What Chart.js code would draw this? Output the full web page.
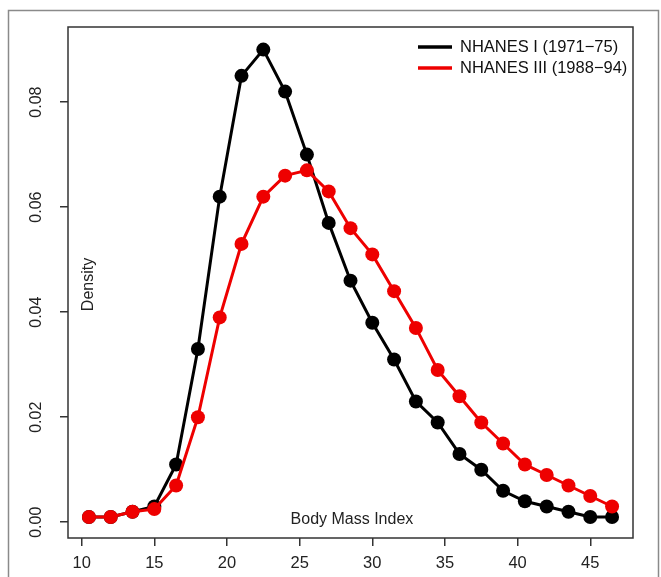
<!DOCTYPE html>
<html>
<head>
<meta charset="utf-8">
<script src="https://cdn.jsdelivr.net/npm/chart.js@4.4.0/dist/chart.umd.min.js"></script>
<style>
  html, body { margin: 0; background: #fff; }
  #wrap { width: 661px; height: 577px; }
</style>
</head>
<body>
<div id="wrap"><canvas id="c" width="661" height="577"></canvas></div>
<script>
// BMI bin midpoints
const bmi = [10.5, 12, 13.5, 15, 16.5, 18, 19.5, 21, 22.5, 24, 25.5, 27, 28.5,
  30, 31.5, 33, 34.5, 36, 37.5, 39, 40.5, 42, 43.5, 45, 46.5]

const nhanes1 = [0.001, 0.001, 0.002, 0.003, 0.011, 0.033, 0.062, 0.085, 0.090,
  0.082, 0.070, 0.057, 0.046, 0.038, 0.031, 0.023, 0.019, 0.013, 0.010, 0.006,
  0.004, 0.003, 0.002, 0.001, 0.001]

const nhanes3 = [0.001, 0.001, 0.002, 0.0025, 0.007, 0.020, 0.039, 0.053, 0.062,
  0.066, 0.067, 0.063, 0.056, 0.051, 0.044, 0.037, 0.029, 0.024, 0.019, 0.015,
  0.011, 0.009, 0.007, 0.005, 0.003]

const seriesNames = ['NHANES I (1971\u221275)', 'NHANES III (1988\u221294)']
const seriesColors = ['#000000', '#ee0000']

const xTicks = [10, 15, 20, 25, 30, 35, 40, 45]
const yTicks = [0, 0.02, 0.04, 0.06, 0.08]
const yTickLabels = ['0.00', '0.02', '0.04', '0.06', '0.08']

const xTitle = 'Body Mass Index'
const yTitle = 'Density'

const FONT = '"Liberation Sans", Arial, sans-serif'


const toPoints = ys => bmi.map((x, i) => ({x: x, y: ys[i]}))

// R style decorations: box, outer frame, y labels, titles inside, legend
const decor = {
  id: 'decor',
  afterDraw(chart) {
    const ctx = chart.ctx
    const a = chart.chartArea
    const y = chart.scales.y
    ctx.save()

    // outer figure frame
    ctx.strokeStyle = '#8a8a8a'
    ctx.lineWidth = 1.5
    ctx.strokeRect(8.5, 10.5, 650, 575)

    // plot box
    ctx.strokeStyle = '#333'
    ctx.lineWidth = 1.5
    ctx.strokeRect(a.left, a.top, a.right - a.left, a.bottom - a.top)

    // rotated y tick labels
    ctx.fillStyle = '#222'
    ctx.font = '16px ' + FONT
    ctx.textAlign = 'center'
    ctx.textBaseline = 'middle'
    yTicks.forEach((v, i) => {
      ctx.save()
      ctx.translate(a.left - 31, y.getPixelForValue(v))
      ctx.rotate(-Math.PI / 2)
      ctx.fillText(yTickLabels[i], 0, 0)
      ctx.restore()
    })

    // axis titles drawn inside the plot
    ctx.font = '16px ' + FONT
    ctx.save()
    ctx.translate(a.left + 21, (a.top + a.bottom) / 2 + 2)
    ctx.rotate(-Math.PI / 2)
    ctx.fillText(yTitle, 0, 0)
    ctx.restore()
    ctx.fillText(xTitle, chart.scales.x.getPixelForValue(28.6), a.bottom - 18)

    // legend
    ctx.textAlign = 'left'
    ctx.font = '16.5px ' + FONT
    seriesNames.forEach((name, i) => {
      const ly = a.top + 20 + i * 21
      ctx.strokeStyle = seriesColors[i]
      ctx.lineWidth = 3.5
      ctx.beginPath()
      ctx.moveTo(a.right - 215, ly)
      ctx.lineTo(a.right - 181, ly)
      ctx.stroke()
      ctx.fillStyle = '#111'
      ctx.fillText(name, a.right - 173, ly)
    })
    ctx.restore()
  }
}


const series = [nhanes1, nhanes3].map((ys, i) => ({
  label: seriesNames[i],
  data: toPoints(ys),
  borderColor: seriesColors[i],
  backgroundColor: seriesColors[i],
  borderWidth: 3,
  pointRadius: 7,
  pointBorderWidth: 0,
  tension: 0,
  order: 1 - i,
}))

new Chart(document.getElementById('c'), {
  type: 'line',
  data: {datasets: series},
  plugins: [decor],
  options: {
    responsive: false,
    animation: false,
    layout: {padding: {top: 27, right: 28, left: 0, bottom: 0}},
    plugins: {
      legend: {display: false},
      tooltip: {enabled: false},
    },
    scales: {
      x: {
        type: 'linear',
        min: 9.06,
        max: 47.94,
        afterBuildTicks: s => { s.ticks = xTicks.map(v => ({value: v})) },
        afterFit: s => { s.height = 39 },
        grid: {drawOnChartArea: false, drawTicks: true, tickLength: 8, color: '#333', lineWidth: 1.5},
        border: {display: false},
        ticks: {
          color: '#222',
          font: {family: FONT, size: 16.5},
          padding: 8,
          maxRotation: 0,
          callback: v => String(v),
        },
      },
      y: {
        type: 'linear',
        min: -0.003,
        max: 0.0943,
        afterBuildTicks: s => { s.ticks = yTicks.map(v => ({value: v})) },
        afterFit: s => { s.width = 68 },
        grid: {drawOnChartArea: false, drawTicks: true, tickLength: 8, color: '#333', lineWidth: 1.5},
        border: {display: false},
        ticks: {display: false},
      },
    },
  },
})
</script>
</body>
</html>
